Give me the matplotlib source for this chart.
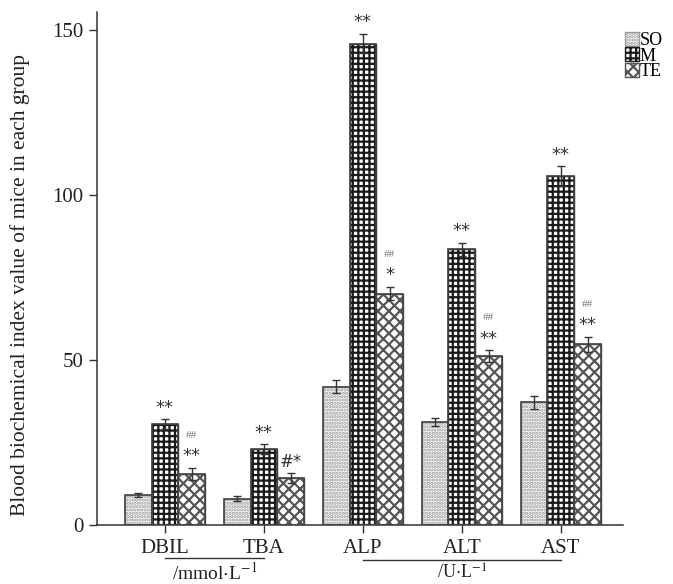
import matplotlib
matplotlib.use('Agg')
import matplotlib.pyplot as plt
import numpy as np
from matplotlib.patches import Patch

plt.rcParams['font.family'] = ['Liberation Serif', 'DejaVu Serif']
plt.rcParams['hatch.linewidth'] = 1.6
plt.rcParams['mathtext.fontset'] = 'stix'

indices = ['DBIL', 'TBA', 'ALP', 'ALT', 'AST']
groups = ['SO', 'M', 'TE']
so_values = [9.0, 8.0, 42.0, 31.2, 37.2]
m_values = [30.6, 23.0, 146.0, 83.6, 105.8]
te_values = [15.6, 14.2, 70.2, 51.2, 54.8]
so_errors = [0.6, 0.7, 2.0, 1.2, 2.0]
m_errors = [1.5, 1.5, 3.0, 2.0, 3.0]
te_errors = [1.8, 1.5, 2.0, 1.8, 2.2]
m_marks = ['**', '**', '**', '**', '**']
te_marks = ['**', '#*', '*', '**', '**']
te_hash = ['##', '', '##', '##', '##']

fig = plt.figure(figsize=(6.73, 5.84), dpi=100)
ax = fig.add_axes([0.144, 0.101, 0.782, 0.878])

x = np.arange(len(indices))
width = 0.27
styles = [
    dict(hatch='.....', edgecolor='#999999'),
    dict(hatch='+++', edgecolor='#1a1a1a'),
    dict(hatch='xxx', edgecolor='#555555'),
]
series = [(so_values, so_errors), (m_values, m_errors), (te_values, te_errors)]

for i, ((vals, errs), style) in enumerate(zip(series, styles)):
    pos = x + (i - 1) * width
    ax.bar(pos, vals, width, facecolor='white', linewidth=1.0, zorder=2, **style)
    ax.bar(pos, vals, width, facecolor='none', edgecolor='#444444', linewidth=1.2, zorder=3)
    ax.errorbar(pos, vals, yerr=errs, fmt='none', ecolor='#333333',
                elinewidth=1.0, capsize=3, capthick=1.0, zorder=4)

for i in range(len(indices)):
    top = m_values[i] + m_errors[i]
    ax.text(x[i], top + 0.8, m_marks[i], ha='center', va='bottom',
            fontsize=13, family='DejaVu Sans', color='#333333')
    top = te_values[i] + te_errors[i]
    ax.text(x[i] + width, top + 0.8, te_marks[i], ha='center', va='bottom',
            fontsize=13 if te_marks[i] != '#*' else 12, family='DejaVu Sans', color='#333333')
    if te_hash[i]:
        ax.text(x[i] + width, top + 8.5, te_hash[i], ha='center', va='bottom',
                fontsize=8, color='#777777')

ax.set_xlim(-0.687, 4.63)
ax.set_ylim(0, 155.5)
ax.set_yticks([0, 50, 100, 150])
ax.set_xticks(x)
ax.set_xticklabels(indices, fontsize=15)
ax.tick_params(axis='y', labelsize=15, direction='out', length=6, width=1.0, colors='#333333', labelcolor='#222222')
ax.tick_params(axis='x', direction='out', length=6, width=1.0, colors='#333333', labelcolor='#222222', pad=4)
ax.spines['top'].set_visible(False)
ax.spines['right'].set_visible(False)
ax.spines['left'].set_color('#333333')
ax.spines['bottom'].set_color('#333333')
ax.spines['left'].set_linewidth(1.1)
ax.spines['bottom'].set_linewidth(1.1)

ax.set_ylabel('Blood biochemical index value of mice in each group', fontsize=15.5, color='#222222')
ax.yaxis.set_label_coords(-0.128, 0.468)

trans = ax.get_xaxis_transform()
ax.plot([x[0], x[1]], [-0.064, -0.064], transform=trans, color='#333333', lw=1.0, clip_on=False)
ax.text((x[0] + x[1]) / 2, -0.093, '/mmol$\\cdot$L$^{-1}$', transform=trans, ha='center', va='center',
        fontsize=14, color='#222222')
ax.plot([x[2], x[4]], [-0.068, -0.068], transform=trans, color='#333333', lw=1.0, clip_on=False)
ax.text(x[3], -0.094, '/U$\\cdot$L$^{-1}$', transform=trans, ha='center', va='center',
        fontsize=13, color='#222222')

handles = [Patch(facecolor='white', linewidth=1.0, **s) for s in styles]
fig.legend(handles, groups, loc='upper left', bbox_to_anchor=(0.928, 0.945),
           frameon=False, fontsize=13, handlelength=0.8, handleheight=0.8,
           handletextpad=0.05, labelspacing=-0.1, borderaxespad=0, borderpad=0)

fig.savefig('out.png', dpi=100)
